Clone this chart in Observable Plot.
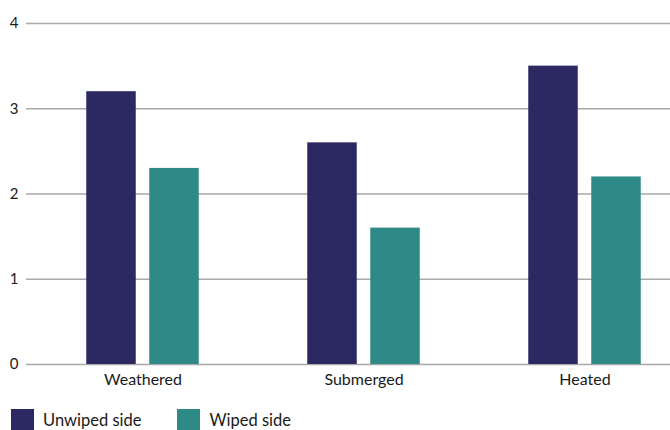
<!DOCTYPE html>
<html>
<head>
<meta charset="utf-8">
<script src="https://cdn.jsdelivr.net/npm/d3@7"></script>
<script src="https://cdn.jsdelivr.net/npm/@observablehq/plot@0.6"></script>
<style>
  body { margin: 0; background: #fff; font-family: Lato, "Open Sans", sans-serif; }
  #chart svg { display: block; }
  .legend { display: flex; margin-top: 14px; padding-left: 11px; font-size: 16.5px; color: #1a1a1a; }
  .item { display: flex; align-items: flex-start; }
  .sw { width: 23px; height: 21px; margin-right: 9px; }
  .lab { line-height: 18px; position: relative; top: 2px; }
</style>
</head>
<body>
<div id="chart"></div>
<div class="legend" id="legend"></div>
<script>
const categories = ["Weathered", "Submerged", "Heated"];
const seriesNames = ["Unwiped side", "Wiped side"];
const unwiped = [3.2, 2.6, 3.5];
const wiped = [2.3, 1.6, 2.2];
const yTicks = [0, 1, 2, 3, 4];
const colors = ["#2c2862", "#2e8a87"];

const rowsU = categories.map((c, i) => ({category: c, value: unwiped[i]}));
const rowsW = categories.map((c, i) => ({category: c, value: wiped[i]}));

const inset = (221.5 - 50) / 2;
const plot = Plot.plot({
  width: 670,
  height: 395,
  marginTop: 23,
  marginBottom: 31,
  marginLeft: 26,
  marginRight: 0,
  style: {fontFamily: "Lato, 'Open Sans', sans-serif", fontSize: "16px", color: "#1a1a1a", background: "#fff"},
  x: {domain: categories, range: [31.75, 696], padding: 0, label: null},
  y: {domain: [0, 4], label: null, ticks: yTicks},
  marks: [
    Plot.ruleY(yTicks, {stroke: "#a9a9a9", strokeWidth: 1.6}),
    Plot.barY(rowsU, {x: "category", y: "value", fill: colors[0], dx: -31.5, insetLeft: inset, insetRight: inset}),
    Plot.barY(rowsW, {x: "category", y: "value", fill: colors[1], dx: 31.5, insetLeft: inset, insetRight: inset}),
    Plot.axisY({ticks: yTicks, tickSize: 0, tickPadding: 8, fontSize: 15, label: null, tickFormat: d3.format("d")}),
    Plot.axisX({tickSize: 0, tickPadding: 9, fontSize: 16, label: null})
  ]
});
document.getElementById("chart").appendChild(plot);

const legend = document.getElementById("legend");
seriesNames.forEach((name, i) => {
  const it = document.createElement("div");
  it.className = "item";
  if (i > 0) it.style.marginLeft = "36px";
  const sw = document.createElement("div");
  sw.className = "sw";
  sw.style.background = colors[i];
  const lab = document.createElement("span");
  lab.className = "lab";
  lab.textContent = name;
  it.appendChild(sw);
  it.appendChild(lab);
  legend.appendChild(it);
});
</script>
</body>
</html>
